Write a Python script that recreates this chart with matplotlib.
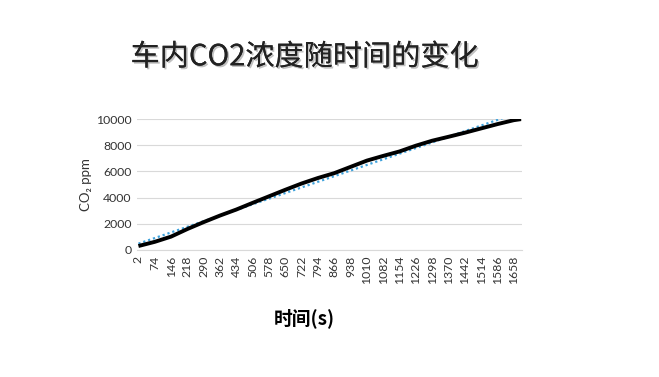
import matplotlib
matplotlib.use("Agg")
import matplotlib.pyplot as plt
import matplotlib.patheffects as pe

# ---- data ----
time_s = [2, 74, 146, 218, 290, 362, 434, 506, 578, 650, 722, 794, 866,
          938, 1010, 1082, 1154, 1226, 1298, 1370, 1442, 1514, 1586, 1658, 1690]
co2_ppm = [300, 620, 1020, 1600, 2130, 2630, 3090, 3600, 4100, 4600, 5080, 5500,
           5870, 6350, 6830, 7190, 7530, 7970, 8350, 8650, 8960, 9290, 9620, 9920, 10000]
trend_x = [2, 1690]
trend_y = [480, 10560]
tick_labels = ["2", "74", "146", "218", "290", "362", "434", "506", "578", "650",
               "722", "794", "866", "938", "1010", "1082", "1154", "1226", "1298",
               "1370", "1442", "1514", "1586", "1658"]
tick_pos = [int(t) for t in tick_labels]
y_ticks = [0, 2000, 4000, 6000, 8000, 10000]

title = "车内CO2浓度随时间的变化"
xlabel = "时间(s)"
ylabel = "CO₂ ppm"

fig = plt.figure(figsize=(6.59, 3.77), dpi=100)
ax = fig.add_axes([0.208, 0.337, 0.584, 0.347])

ax.plot(trend_x, trend_y, color="#3fa2dc", lw=1.6, ls=(0, (1, 1.3)), zorder=2, clip_on=True)
ax.plot(time_s, co2_ppm, color="black", lw=2.8, zorder=3, solid_capstyle="butt",
        solid_joinstyle="round")

ax.set_xlim(-4, 1694)
ax.set_ylim(0, 10000)
ax.set_yticks(y_ticks)
ax.set_yticklabels([str(v) for v in y_ticks])
ax.set_xticks(tick_pos)
ax.set_xticklabels(tick_labels, rotation=90)
ax.tick_params(length=0, labelsize=8.8, labelcolor="#333333", pad=4)
for lab in ax.get_xticklabels() + ax.get_yticklabels():
    lab.set_family(["Lato", "DejaVu Sans"])
ax.grid(axis="y", color="#d9d9d9", lw=0.8)
ax.set_axisbelow(True)
for s in ["top", "right", "left"]:
    ax.spines[s].set_visible(False)
ax.spines["bottom"].set_color("#d9d9d9")

ax.set_ylabel(ylabel, family=["Lato", "DejaVu Sans"], fontsize=9.5, color="#333333", labelpad=3)

fig.text(0.462, 0.848, title, ha="center", va="center", fontsize=21,
         family=["Noto Sans CJK SC", "DejaVu Sans"], weight="normal", color="#222222",
         path_effects=[pe.withSimplePatchShadow(offset=(1.2, -1.2), shadow_rgbFace="#999999", alpha=0.6),
                       pe.Normal()])
fig.text(0.462, 0.155, xlabel, ha="center", va="center", fontsize=13.5, weight="bold",
         family=["Noto Sans CJK SC", "DejaVu Sans"], color="black")

fig.savefig("out.png", dpi=100)
